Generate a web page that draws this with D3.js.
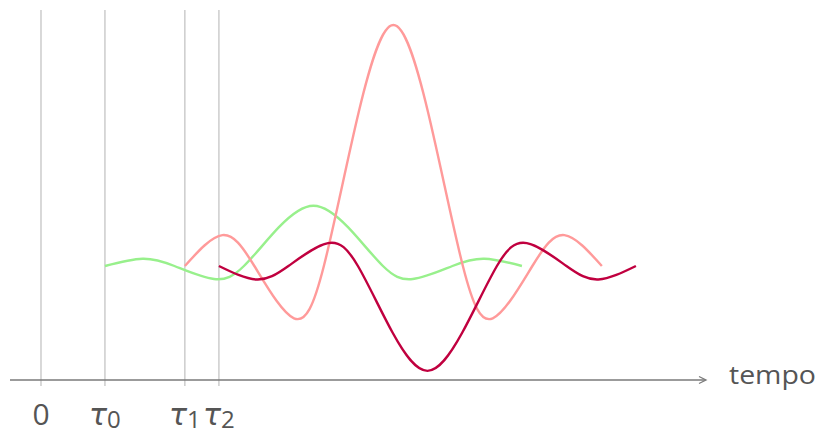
<!DOCTYPE html>
<html><head><meta charset="utf-8">
<script src="https://cdn.jsdelivr.net/npm/d3@7"></script>
<style>body{margin:0;background:#fff}svg{display:block}</style>
</head><body>
<script>
// ---- data (time in arbitrary units, amplitude in arbitrary units) ----
const tickTimes = [0, 0.92, 2.07, 2.56];
const tickLabels = [["0", null], ["τ", "0"], ["τ", "1"], ["τ", "2"]];
const axisLabel = "tempo";

const greenT = [0.92, 1.46, 1.92, 2.49, 2.92, 3.42, 3.92, 4.42, 4.92, 5.35, 5.92, 6.38, 6.92];
const greenV = [0, 0.3, 0, -0.54, 0, 1.6, 2.5, 1.6, 0, -0.54, 0, 0.3, 0];
const pinkT  = [2.07, 2.61, 3.07, 3.64, 4.07, 4.57, 5.07, 5.57, 6.07, 6.50, 7.07, 7.53, 8.07];
const pinkV  = [0, 1.28, 0, -2.17, 0, 6.37, 10, 6.37, 0, -2.17, 0, 1.28, 0];
const redT   = [2.56, 3.10, 3.56, 4.13, 4.56, 5.06, 5.56, 6.06, 6.56, 6.99, 7.56, 8.02, 8.56];
const redV   = [0, -0.56, 0, 0.95, 0, -2.77, -4.35, -2.77, 0, 0.95, 0, -0.56, 0];

const series = [
  {t: greenT, v: greenV, color: "#98f08c"},
  {t: pinkT,  v: pinkV,  color: "#ff9a9a"},
  {t: redT,   v: redV,   color: "#c0003f"}
];

// ---- layout ----
const W = 819, H = 434;
const x = d3.scaleLinear().domain([0, 10]).range([41, 736]);
const y = d3.scaleLinear().domain([0, 10]).range([266, 25]);
const axisVal = -4.73, topVal = 10.62;
const axisStart = -0.446, axisEnd = 9.554;

const svg = d3.select("body").append("svg").attr("width", W).attr("height", H);

// vertical guide lines
svg.append("g").selectAll("line").data(tickTimes).join("line")
  .attr("x1", d => x(d)).attr("x2", d => x(d))
  .attr("y1", y(topVal)).attr("y2", y(axisVal) + 6)
  .attr("stroke", "#c4c4c4").attr("stroke-width", 1.3);

// axis
const ay = y(axisVal);
svg.append("line").attr("x1", x(axisStart)).attr("x2", x(axisEnd))
  .attr("y1", ay).attr("y2", ay).attr("stroke", "#7a7a7a").attr("stroke-width", 1.3);
svg.append("path")
  .attr("d", `M${x(axisEnd)-6},${ay-3.5} L${x(axisEnd)+1},${ay} L${x(axisEnd)-6},${ay+3.5}`)
  .attr("fill", "none").attr("stroke", "#7a7a7a").attr("stroke-width", 1.3);

svg.append("text").attr("x", 729).attr("y", 384)
  .attr("font-family", "Open Sans").attr("font-size", 25).attr("fill", "#555")
  .attr("textLength", 87).attr("lengthAdjust", "spacingAndGlyphs")
  .text(axisLabel);

// tick labels
const lab = svg.append("g").attr("font-family", "Open Sans").attr("fill", "#555");
tickLabels.forEach((l, i) => {
  const t = lab.append("text").attr("x", x(tickTimes[i])).attr("y", 425)
    .attr("text-anchor", "middle").attr("font-size", 30);
  if (l[1] === null) {
    t.text(l[0]);
  } else {
    t.append("tspan").attr("font-style", "italic").attr("font-family", "DejaVu Sans").attr("font-weight", 300).text(l[0]);
    t.append("tspan").attr("font-size", 24).attr("dy", 3).text(l[1]);
  }
});

// curves
const line = d3.line().x(d => x(d[0])).y(d => y(d[1])).curve(d3.curveNatural);
svg.append("g").selectAll("path").data(series).join("path")
  .attr("d", s => line(s.t.map((t, i) => [t, s.v[i]])))
  .attr("fill", "none").attr("stroke", s => s.color).attr("stroke-width", 2.4)
  .attr("stroke-linejoin", "round");
</script>
</body></html>
